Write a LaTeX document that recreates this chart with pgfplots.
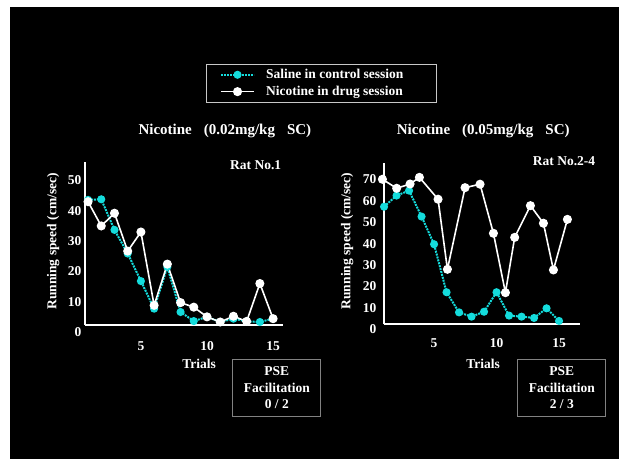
\documentclass[border=0pt]{standalone}
\usepackage{fontspec}
\setmainfont{Liberation Serif}
\usepackage{pgfplots}
\pgfplotsset{compat=1.18}
\definecolor{cyanline}{RGB}{20,220,220}
\definecolor{boxgray}{RGB}{130,130,130}
\definecolor{legendgray}{RGB}{200,200,200}

\newcommand{\lbl}{\fontsize{13.5}{16.5}\selectfont\bfseries}
\newcommand{\ttl}{\fontsize{15}{18}\selectfont\bfseries}

\pgfplotsset{
  ratstyle/.style={
    scale only axis, clip=false,
    axis line style={draw=none},
    major tick length=0pt,
    tick style={draw=none},
    ticklabel style={font=\lbl, text=white},
    /pgf/number format/assume math mode=true,
    xtick={5,10,15},
    xticklabel style={anchor=base, yshift=-18pt},
  },
  saline/.style={cyanline, line width=2pt, densely dotted,
    mark=*, mark size=3pt, mark options={solid, fill=cyanline, draw=cyanline}},
  nicotine/.style={white, line width=1.6pt,
    mark=*, mark size=3.7pt, mark options={solid, fill=white, draw=white}},
}

\begin{document}
\begin{tikzpicture}[x=1pt, y=1pt, every node/.style={font=\lbl, text=white}]
\useasboundingbox (0,0) rectangle (619,459);
\fill[white] (0,0) rectangle (619,459);
\fill[black] (10,0) rectangle (619,452);

% left panel: Rat No.1
\begin{axis}[ratstyle,
    at={(85pt,127pt)}, anchor=south west,
    width=198pt, height=170pt,
    xmin=0.77, xmax=15.75, ymin=0, ymax=56.1,
    ytick={0,10,20,30,40,50},
    legend style={at={(1.192,1.4635)}, anchor=center, fill=black,
      draw=legendgray, line width=1pt, font=\lbl, text=white,
      cells={anchor=west}, inner xsep=14pt, inner ysep=4pt,
      row sep=4pt, nodes={inner ysep=1pt},
      /tikz/every odd column/.append style={column sep=9pt}},
    legend image code/.code={\draw[#1, mark repeat=2, mark phase=2]
      plot coordinates {(0pt,0pt)(16.5pt,0pt)(33pt,0pt)};},
]
\draw[white, line width=2pt] (axis cs:0.77,2.3) -- (axis cs:15.75,2.3);
\draw[white, line width=2pt] (axis cs:0.77,2.3) -- (axis cs:0.77,56.1);
\addplot[saline] coordinates {
  (1,43.6)(2,43.8)(3,33.7)(4,25.9)(5,16.8)(6,7.7)(7,21.5)(8,6.6)
  (9,3.6)(10,5.0)(11,3.3)(12,4.4)(13,3.5)(14,3.3)(15,4.4)};
\addplot[nicotine] coordinates {
  (1,43.0)(2,35.0)(3,39.2)(4,26.7)(5,33.0)(6,8.8)(7,22.4)(8,9.7)
  (9,8.2)(10,5.0)(11,3.3)(12,5.2)(13,3.5)(14,16.0)(15,4.4)};
\legend{\makebox[154pt][l]{Saline in control session}, Nicotine in drug session}
\end{axis}

% right panel: Rat No.2-4
\begin{axis}[ratstyle,
    at={(384.3pt,129.7pt)}, anchor=south west,
    width=195.75pt, height=166.3pt,
    xmin=1.02, xmax=16.68, ymin=0, ymax=77.6,
    ytick={0,10,20,30,40,50,60,70},
    yticklabel style={xshift=-4.5pt},
]
\draw[white, line width=2pt] (axis cs:1.02,2.33) -- (axis cs:16.68,2.33);
\draw[white, line width=2pt] (axis cs:1.02,2.33) -- (axis cs:1.02,77.6);
\addplot[saline] coordinates {
  (1,57.2)(2,62.4)(3,64.7)(4,52.6)(5,39.7)(6,17.3)(7,7.9)(8,5.9)
  (9,8.2)(10,17.3)(11,6.4)(12,5.9)(13,5.3)(14,9.8)(15,3.9)};
\addplot[nicotine] coordinates {
  (0.87,70.0)(2.01,65.8)(3.08,67.8)(3.83,70.9)(5.32,60.7)(6.07,28.0)
  (7.48,66.1)(8.68,67.7)(9.75,44.8)(10.71,17.1)(11.45,42.9)(12.71,57.7)
  (13.75,49.5)(14.55,27.7)(15.67,51.3)};
\end{axis}

% titles and labels
\node[anchor=base west, inner sep=0pt, font=\ttl] at (138.3,324) {Nicotine\hspace{12pt}(0.02mg/kg\hspace{12pt}SC)};
\node[anchor=base west, inner sep=0pt, font=\ttl] at (396.7,324) {Nicotine\hspace{12pt}(0.05mg/kg\hspace{12pt}SC)};
\node[anchor=base west, inner sep=0pt] at (230,289.7) {Rat No.1};
\node[anchor=base west, inner sep=0pt] at (532.7,294) {Rat No.2-4};
\node[rotate=90, inner sep=0pt] at (53.3,217.7) {Running speed (cm/sec)};
\node[rotate=90, inner sep=0pt] at (347.3,218) {Running speed (cm/sec)};
\node[anchor=base, inner sep=0pt] at (199,90.7) {Trials};
\node[anchor=base, inner sep=0pt] at (483,90.7) {Trials};

% PSE boxes
\node[draw=boxgray, line width=1pt, fill=black, minimum width=88.3pt, minimum height=56.7pt,
      align=center, inner sep=0pt] at (276.8,71.3) {PSE\\Facilitation\\0 / 2};
\node[draw=boxgray, line width=1pt, fill=black, minimum width=88.3pt, minimum height=56.7pt,
      align=center, inner sep=0pt] at (561.8,71.3) {PSE\\Facilitation\\2 / 3};
\end{tikzpicture}
\end{document}
